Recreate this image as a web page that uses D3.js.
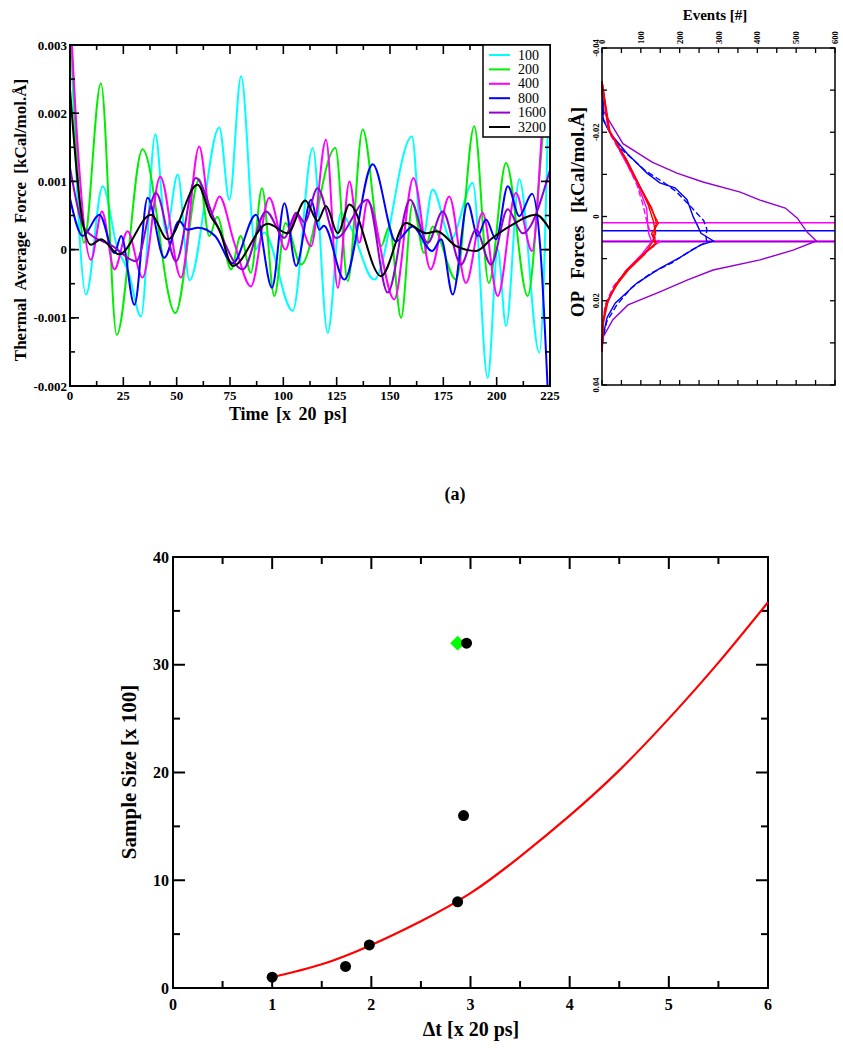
<!DOCTYPE html>
<html><head><meta charset="utf-8">
<script src="https://cdn.jsdelivr.net/npm/d3@7"></script>
<style>
body{margin:0;background:#fff}
svg{display:block}
text{font-family:"Liberation Serif","Times New Roman",serif}
</style></head><body>
<svg id="c" width="843" height="1050"></svg>
<script>
// ---------- Panel 1: thermal average force vs time ----------
const seriesNames = ["100","200","400","800","1600","3200"];
const seriesColors = ["#00ffff","#00ee00","#ff00ff","#0000ff","#9400d3","#000000"];
const s100 = [[0,0.0034],[7.5,-0.00066],[15.3,0.00093],[22,0.00005],[27.5,-0.00034],[33.3,-0.00098],[40,0.00169],[45,0.00025],[50.5,0.0011],[56,-0.00045],[70,0.00179],[74.7,0.00073],[80.2,0.00254],[87,0.0],[91,0.00025],[104.4,-0.0009],[113.8,0.00149],[120.8,-0.00122],[127,0.00054],[132,0.0003],[142.5,-0.00044],[160.3,0.00166],[165,0.0001],[170,0.00088],[178.6,0.00015],[188.8,0.00098],[195.8,-0.00188],[200.5,0.0],[204.4,-0.00112],[210.6,0.00103],[220,-0.00151],[225,0.0032]];
const s200 = [[0,0.0035],[3,0.0015],[6.5,0.0001],[14.5,0.00244],[21.9,-0.00125],[34,0.00147],[49.4,-0.00093],[60.6,0.00103],[65.3,0.0002],[69,0.00048],[75.5,-0.00029],[80,0.0002],[84.8,-0.00034],[90,0.0009],[95.8,-0.00068],[101,0.00039],[108.3,-0.00022],[124.4,0.00149],[130.2,-0.00046],[137.2,0.00176],[145.8,0.00005],[149.7,0.00034],[155.2,-0.001],[160.6,0.00068],[166,-0.00005],[170,0.00034],[181,-0.00044],[189.5,0.00181],[196.3,-0.00049],[204.4,0.00127],[214.5,-0.00068],[222,0.0018],[225,0.0026]];
const s400 = [[0,0.0035],[3,0.0018],[9.8,-0.00015],[15,0.00056],[20.8,-0.00029],[27,0.00027],[34,-0.00041],[42.3,0.00107],[52,-0.00041],[60.6,0.00151],[66,0.00051],[70,0.00078],[77,0.0001],[84.8,-0.00054],[93.4,0.00076],[101,0.0],[106,0.00051],[113,0.00005],[120,0.00161],[125.5,-0.00056],[131,0.001],[135.6,0.0001],[139.5,0.00071],[152,-0.00073],[161,0.00105],[169,-0.00029],[177.8,0.00078],[185.6,-0.00049],[193.4,0.00054],[200.5,-0.00068],[209,0.00083],[216.6,-0.00002],[222,0.0021],[225,0.0033]];
const s800 = [[0,0.00075],[6,0.0002],[13.8,0.00051],[20.8,-0.00005],[24,0.0002],[30.2,-0.00081],[36.4,0.00076],[44.2,-0.00012],[51.2,0.00042],[55,0.00029],[60,0.00032],[68,0.0002],[76.3,-0.0002],[87.2,0.00051],[94.7,-0.00056],[100.5,0.00068],[106,-0.00024],[113,0.00073],[116.9,0.00029],[119,0.00035],[128.6,-0.00044],[141.9,0.00125],[152.8,0.00012],[160.6,0.00034],[169.7,-0.00002],[174,0.00015],[179.4,-0.00066],[186.4,0.00068],[191.1,0.0002],[195,0.00044],[199.7,0.00015],[205.2,0.00093],[210.6,0.00049],[216.6,0.00082],[220.5,0.0],[224,-0.0021]];
const s1600 = [[0,0.0012],[7,0.0003],[20,0.00005],[31,-0.00017],[40.3,0.00083],[49.7,-0.00017],[59,0.00105],[68,0.00042],[81,-0.00029],[91.9,0.00056],[100.5,0.00017],[106,0.00054],[110,0.0004],[116,0.0009],[124.7,0.00017],[139.5,0.00073],[148.9,-0.00063],[159.4,0.00073],[167.7,0.0001],[174.7,0.00056],[183.3,-0.00022],[190.3,0.00029],[197.3,-0.00022],[205.2,0.00059],[212.2,0.00024],[225,0.00117]];
const s3200 = [[0,0.00235],[5,0.0006],[9.8,0.00007],[14.5,0.00015],[23,-0.00007],[38,0.00051],[45.8,0.00015],[59.8,0.00095],[66,0.00049],[70,0.00029],[76.3,-0.00024],[92.7,0.00038],[102,0.00024],[110.3,0.00072],[116.1,0.00042],[120,0.00064],[125.5,0.00024],[131,0.00066],[145.8,-0.00039],[157.5,0.00039],[167,0.00024],[172,0.00027],[181,0.00005],[190.3,-0.00002],[198,0.00017],[206,0.00034],[218.4,0.00051],[225,0.00029]];
const timeTicks = [0,25,50,75,100,125,150,175,200,225];
const forceTicks = [-0.002,-0.001,0,0.001,0.002,0.003];
const forceTickLabels = ["-0.002","-0.001","0","0.001","0.002","0.003"];

// ---------- Panel 2: OP force histograms (rotated) ----------
const red1 = [[-0.032,0],[-0.0198,21],[-0.0134,64],[-0.0071,98],[-0.0023,124],[0.0016,145],[0.004,128],[0.0064,137],[0.0091,106],[0.0127,64],[0.0159,38],[0.0206,12],[0.0246,3],[0.032,0]];
const red2 = [[-0.032,0],[-0.021,16],[-0.014,58],[-0.008,92],[-0.003,118],[0.001,132],[0.004,138],[0.006,130],[0.009,110],[0.0125,70],[0.016,40],[0.0195,17],[0.025,4],[0.032,0]];
const red3 = [[-0.032,0],[-0.0205,18],[-0.0138,61],[-0.0075,95],[-0.002,128],[0.0015,140],[0.0045,133],[0.0065,140],[0.0095,100],[0.013,62],[0.0162,35],[0.021,10],[0.0255,2],[0.032,0]];
const mag1 = [[-0.032,0],[-0.021,15],[-0.014,55],[-0.008,90],[-0.002,115],[0.002,118],[0.004,120],[0.006,128],[0.009,102],[0.013,60],[0.017,32],[0.021,12],[0.026,2],[0.032,0]];
const mag2 = [[-0.032,0],[-0.02,18],[-0.013,62],[-0.0075,90],[-0.003,105],[0.001,115],[0.004,125],[0.006,149],[0.0085,110],[0.012,72],[0.0165,30],[0.021,8],[0.026,1],[0.032,0]];
const blue1 = [[-0.032,0],[-0.0229,3],[-0.0198,21],[-0.015,64],[-0.0103,116],[-0.008,149],[-0.0068,188],[-0.004,219],[0.0001,235],[0.002,245],[0.004,255],[0.0058,287],[0.0068,253],[0.0097,201],[0.0123,149],[0.0158,90],[0.0206,34],[0.024,13],[0.0294,0],[0.032,0]];
const blue2 = [[-0.032,0],[-0.023,4],[-0.019,25],[-0.016,50],[-0.011,110],[-0.008,160],[-0.006,190],[-0.003,222],[0.001,262],[0.003,270],[0.005,268],[0.006,270],[0.008,230],[0.011,180],[0.0135,125],[0.017,75],[0.021,38],[0.025,12],[0.029,2],[0.032,0]];
const purple1 = [[-0.032,0],[-0.0248,5],[-0.0173,54],[-0.0129,129],[-0.0103,193],[-0.0082,260],[-0.0058,356],[-0.0039,407],[-0.002,472],[0.0004,503],[0.0037,528],[0.0058,552],[0.008,492],[0.0103,407],[0.0127,286],[0.0151,219],[0.0179,149],[0.021,67],[0.0245,28],[0.0286,3],[0.032,0]];
const meanLines = [[0.0015,"#ff00ff"],[0.0034,"#0000ff"],[0.0058,"#ff00ff"],[0.006,"#9400d3"]];
const eventTicks = [0,100,200,300,400,500,600];
const opTicks = [-0.04,-0.02,0,0.02,0.04];
const opTickLabels = ["-0.04","-0.02","0","0.02","0.04"];

// ---------- Panel 3: sample size vs dt ----------
const dtValues = [1.0,1.74,1.98,2.87,2.93,2.96];
const sizeValues = [1,2,4,8,16,32];
const greenPoint = [2.87,32];
const fitX = [1,1.5,2,2.5,3,3.5,4,4.5,5,5.5,6];
const fitY = [1,2.2,4,6.2,8.8,12.2,16,20.2,25,30.2,35.8];
const dtTicks = [0,1,2,3,4,5,6];
const sizeTicks = [0,10,20,30,40];

const svg = d3.select("#c");

function inwardTicks(g, scale, side, pos, values, len, other) {
  values.forEach(v => {
    const p = scale(v);
    let x1,y1,x2,y2;
    if (side==="bottom"){x1=x2=p;y1=pos;y2=pos-len;}
    if (side==="top"){x1=x2=p;y1=pos;y2=pos+len;}
    if (side==="left"){y1=y2=p;x1=pos;x2=pos+len;}
    if (side==="right"){y1=y2=p;x1=pos;x2=pos-len;}
    g.append("line").attr("x1",x1).attr("y1",y1).attr("x2",x2).attr("y2",y2)
      .attr("stroke","#000").attr("stroke-width",other||1.6);
  });
}

// ===== Panel 1 =====
{
  const L=70,R=550,T=45,B=386;
  const x = d3.scaleLinear().domain([0,225]).range([L,R]);
  const y = d3.scaleLinear().domain([-0.002,0.003]).range([B,T]);
  const g = svg.append("g");
  const clip = svg.append("defs").append("clipPath").attr("id","clip1");
  clip.append("rect").attr("x",L).attr("y",T).attr("width",R-L).attr("height",B-T);
  const line = d3.line().x(d=>x(d[0])).y(d=>y(d[1])).curve(d3.curveMonotoneX);
  const all=[s100,s200,s400,s800,s1600,s3200];
  const lg = g.append("g").attr("clip-path","url(#clip1)");
  all.forEach((s,i)=>{
    lg.append("path").attr("d",line(s)).attr("fill","none")
      .attr("stroke",seriesColors[i]).attr("stroke-width",2);
  });
  g.append("rect").attr("x",L).attr("y",T).attr("width",R-L).attr("height",B-T)
    .attr("fill","none").attr("stroke","#000").attr("stroke-width",2);
  const minorT = d3.range(0,226,12.5);
  const minorF = d3.range(-0.002,0.0031,0.0005);
  inwardTicks(g,x,"bottom",B,timeTicks,9);
  inwardTicks(g,x,"top",T,timeTicks,9);
  inwardTicks(g,x,"bottom",B,minorT.filter(v=>v%25!==0),5);
  inwardTicks(g,x,"top",T,minorT.filter(v=>v%25!==0),5);
  inwardTicks(g,y,"left",L,forceTicks,9);
  inwardTicks(g,y,"right",R,forceTicks,9);
  inwardTicks(g,y,"left",L,minorF,5);
  inwardTicks(g,y,"right",R,minorF,5);
  timeTicks.forEach(v=>{
    g.append("text").attr("x",x(v)).attr("y",B+14).attr("text-anchor","middle")
      .attr("font-size",13).attr("font-weight","bold").text(v);
  });
  forceTicks.forEach((v,i)=>{
    g.append("text").attr("x",L-3).attr("y",y(v)+4.5).attr("text-anchor","end")
      .attr("font-size",13).attr("font-weight","bold").text(forceTickLabels[i]);
  });
  g.append("text").attr("x",288).attr("y",420).attr("text-anchor","middle")
    .attr("font-size",18).attr("font-weight","bold").attr("word-spacing",3)
    .text("Time [x 20 ps]");
  g.append("text").attr("transform","translate(26,220) rotate(-90)").attr("text-anchor","middle")
    .attr("font-size",17).attr("font-weight","bold").attr("word-spacing",4)
    .text("Thermal Average Force [kCal/mol.Å]");
  const lgd = g.append("g");
  lgd.append("rect").attr("x",483).attr("y",T).attr("width",R-483).attr("height",92)
    .attr("fill","#fff").attr("stroke","#000").attr("stroke-width",1.5);
  seriesNames.forEach((n,i)=>{
    const yy = 55 + i*14.4;
    lgd.append("line").attr("x1",489).attr("x2",510).attr("y1",yy).attr("y2",yy)
      .attr("stroke",seriesColors[i]).attr("stroke-width",2);
    lgd.append("text").attr("x",518).attr("y",yy+4.5).attr("font-size",14).text(n);
  });
}

// ===== Panel 2 =====
{
  const L=602,R=835,T=48,B=385;
  const x = d3.scaleLinear().domain([0,600]).range([L,R]);
  const y = d3.scaleLinear().domain([-0.04,0.04]).range([T,B]);
  const g = svg.append("g");
  const line = d3.line().x(d=>x(d[1])).y(d=>y(d[0]));
  const drawH = (s,c,dash)=>g.append("path").attr("d",line(s)).attr("fill","none")
    .attr("stroke",c).attr("stroke-width",1.4).attr("stroke-dasharray",dash||null);
  meanLines.forEach(m=>{
    g.append("line").attr("x1",L).attr("x2",R).attr("y1",y(m[0])).attr("y2",y(m[0]))
      .attr("stroke",m[1]).attr("stroke-width",1.4);
  });
  drawH(purple1,"#9400d3");
  drawH(blue2,"#0000ff","6,3");
  drawH(blue1,"#0000ff");
  drawH(mag2,"#ff00ff","6,3");
  drawH(mag1,"#ff00ff");
  drawH(red1,"#ff0000");
  drawH(red2,"#ff0000");
  drawH(red3,"#ff0000");
  g.append("rect").attr("x",L).attr("y",T).attr("width",R-L).attr("height",B-T)
    .attr("fill","none").attr("stroke","#000").attr("stroke-width",1.5);
  const evMinor = d3.range(0,601,50);
  const opMinor = d3.range(-0.04,0.0401,0.01);
  inwardTicks(g,x,"top",T,evMinor,5,1.3);
  inwardTicks(g,x,"bottom",B,evMinor,5,1.3);
  inwardTicks(g,y,"left",L,opMinor,5,1.3);
  inwardTicks(g,y,"right",R,opMinor,5,1.3);
  eventTicks.forEach(v=>{
    g.append("text").attr("transform",`translate(${x(v)+3},${T-4}) rotate(-90)`)
      .attr("text-anchor","start").attr("font-size",8.5).attr("font-weight","bold").text(v);
  });
  opTicks.forEach((v,i)=>{
    g.append("text").attr("transform",`translate(${L-3},${y(v)}) rotate(-90)`)
      .attr("text-anchor","middle").attr("font-size",8.5).attr("font-weight","bold").text(opTickLabels[i]);
  });
  g.append("text").attr("x",715).attr("y",20).attr("text-anchor","middle")
    .attr("font-size",15).attr("font-weight","bold").text("Events [#]");
  g.append("text").attr("transform","translate(584,212) rotate(-90)").attr("text-anchor","middle")
    .attr("font-size",19).attr("font-weight","bold").attr("word-spacing",8)
    .text("OP Forces [kCal/mol.Å]");
}

svg.append("text").attr("x",455).attr("y",500).attr("text-anchor","middle")
  .attr("font-size",18).attr("font-weight","bold").text("(a)");

// ===== Panel 3 =====
{
  const L=173,R=768,T=557,B=988;
  const x = d3.scaleLinear().domain([0,6]).range([L,R]);
  const y = d3.scaleLinear().domain([0,40]).range([B,T]);
  const g = svg.append("g");
  g.append("rect").attr("x",L).attr("y",T).attr("width",R-L).attr("height",B-T)
    .attr("fill","none").attr("stroke","#000").attr("stroke-width",2);
  const xm = d3.range(0.5,6,1), ym = d3.range(5,40,10);
  inwardTicks(g,x,"bottom",B,dtTicks,12,2);
  inwardTicks(g,x,"top",T,dtTicks,12,2);
  inwardTicks(g,x,"bottom",B,xm,7,2);
  inwardTicks(g,x,"top",T,xm,7,2);
  inwardTicks(g,y,"left",L,sizeTicks,12,2);
  inwardTicks(g,y,"right",R,sizeTicks,12,2);
  inwardTicks(g,y,"left",L,ym,7,2);
  inwardTicks(g,y,"right",R,ym,7,2);
  dtTicks.forEach(v=>{
    g.append("text").attr("x",x(v)).attr("y",B+22).attr("text-anchor","middle")
      .attr("font-size",16).attr("font-weight","bold").text(v);
  });
  sizeTicks.forEach(v=>{
    g.append("text").attr("x",L-4).attr("y",y(v)+5.5).attr("text-anchor","end")
      .attr("font-size",16).attr("font-weight","bold").text(v);
  });
  const fit = fitX.map((v,i)=>[v,fitY[i]]);
  g.append("path").attr("d",d3.line().x(d=>x(d[0])).y(d=>y(d[1])).curve(d3.curveNatural)(fit))
    .attr("fill","none").attr("stroke","#ff0000").attr("stroke-width",2.2);
  g.append("path").attr("d",d3.symbol(d3.symbolSquare,110)())
    .attr("transform",`translate(${x(greenPoint[0])},${y(greenPoint[1])}) rotate(45)`).attr("fill","#00ff00");
  dtValues.forEach((v,i)=>{
    g.append("circle").attr("cx",x(v)).attr("cy",y(sizeValues[i])).attr("r",5.5).attr("fill","#000");
  });
  g.append("text").attr("x",471).attr("y",1036).attr("text-anchor","middle")
    .attr("font-size",20).attr("font-weight","bold").text("Δt [x 20 ps]");
  g.append("text").attr("transform","translate(136,772) rotate(-90)").attr("text-anchor","middle")
    .attr("font-size",21).attr("font-weight","bold").text("Sample Size [x 100]");
}
</script></body></html>
